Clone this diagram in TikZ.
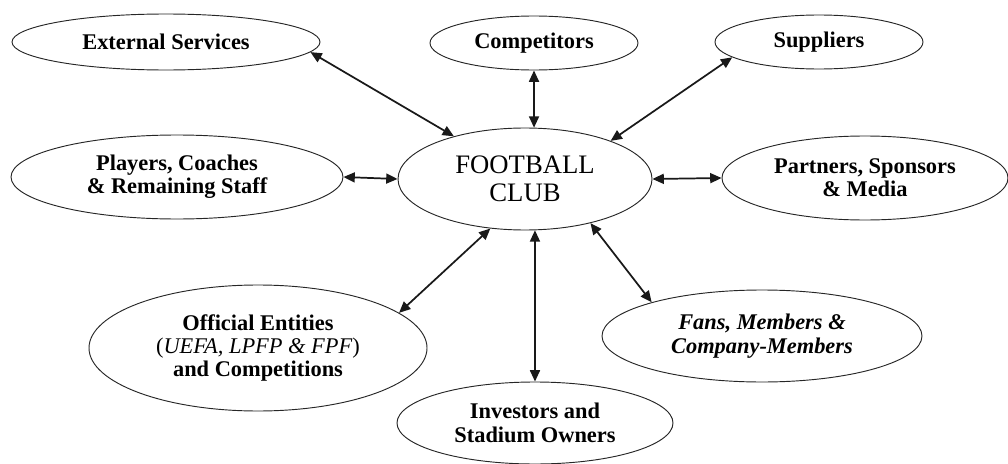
\documentclass[tikz,border=0pt]{standalone}
\usepackage{fontspec}
\setmainfont{Liberation Serif}
\usetikzlibrary{shapes.geometric,arrows.meta}
\newcommand\entfont{\fontsize{16.8}{17.5}\selectfont\bfseries}
\newcommand\clubfont{\fontsize{20}{21}\selectfont}
\tikzset{
  ent/.style={ellipse, draw=black!85, line width=0.7pt, inner sep=0pt, align=center, font=\entfont},
  link/.style={line width=1.3pt, draw=black!90, {Triangle[length=8.5pt,width=7.5pt]}-{Triangle[length=8.5pt,width=7.5pt]}}
}
\begin{document}
\begin{tikzpicture}[x=0.75pt,y=-0.75pt]
\useasboundingbox (0,0) rectangle (1008,464);
\node[ent, minimum width=231pt, minimum height=42pt] (ext) at (166,42) {External Services};
\node[ent, minimum width=156pt, minimum height=40.5pt] (comp) at (534,43) {Competitors};
\node[ent, minimum width=156pt, minimum height=40.5pt] (sup) at (819,42) {Suppliers};
\node[ent, minimum width=249pt, minimum height=63pt] (play) at (177,177) {Players, Coaches\\\& Remaining Staff};
\node[ent, font=\clubfont, minimum width=190.5pt, minimum height=76.5pt] (club) at (525,179) {FOOTBALL\\CLUB};
\node[ent, minimum width=214.5pt, minimum height=63pt] (part) at (865,178) {Partners, Sponsors\\\& Media};
\node[ent, minimum width=253.5pt, minimum height=94.5pt] (off) at (258,348) {Official Entities\\{\mdseries(\textit{UEFA, LPFP \& FPF})}\\and Competitions};
\node[ent, font=\entfont\itshape, minimum width=240pt, minimum height=69pt] (fans) at (762,336) {Fans, Members \&\\Company-Members};
\node[ent, minimum width=207pt, minimum height=61.5pt] (inv) at (535,423) {Investors and\\Stadium Owners};
\draw[link] (ext.-4) -- (club.149);
\draw[link] (comp.south) -- (club.80);
\draw[link] (sup.190) -- (club.24);
\draw[link] (play.east) -- (club.west);
\draw[link] (part.west) -- (club.east);
\draw[link] (off.14) -- (club.235);
\draw[link] (inv.north) -- (club.-79);
\draw[link] (fans.163) -- (club.-34);
\end{tikzpicture}
\end{document}
